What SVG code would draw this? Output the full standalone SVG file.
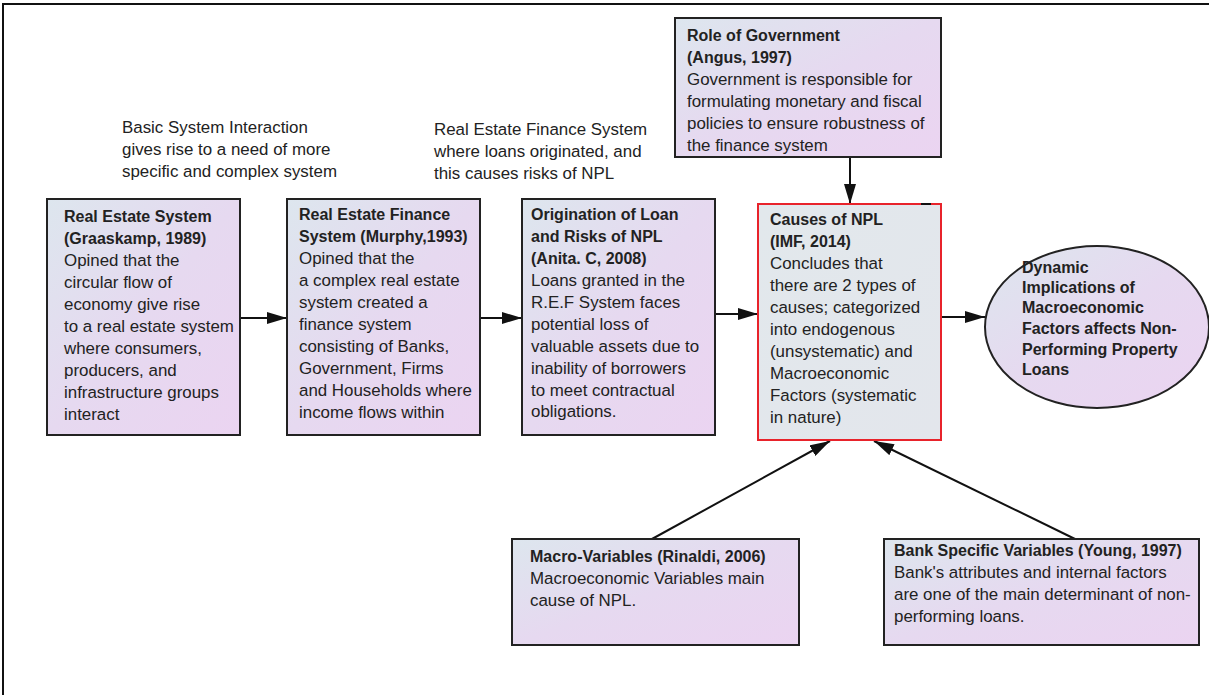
<svg xmlns="http://www.w3.org/2000/svg" width="1209" height="695" viewBox="0 0 1209 695">
<defs>
<linearGradient id="g" x1="0" y1="0" x2="1" y2="1">
<stop offset="0" stop-color="#dde6ee"/>
<stop offset="0.5" stop-color="#e6d9f0"/>
<stop offset="1" stop-color="#ebd4f1"/>
</linearGradient>
<linearGradient id="g2" x1="0" y1="0" x2="1" y2="1">
<stop offset="0" stop-color="#e2e8ec"/>
<stop offset="1" stop-color="#e3e6ec"/>
</linearGradient>
<marker id="arr2" viewBox="0 0 10 10" refX="10" refY="5" markerWidth="20" markerHeight="12" markerUnits="userSpaceOnUse" orient="auto" preserveAspectRatio="none">
<path d="M0,0 L10,5 L0,10 z" fill="#111"/>
</marker>
</defs>
<style>
text{font-family:"Liberation Sans",Arial,sans-serif;font-size:16.9px;fill:#222}
.b{font-weight:bold;font-size:16px}
.box{fill:url(#g);stroke:#222;stroke-width:2}
.conn{stroke:#111;stroke-width:2;fill:none}
</style>
<rect x="0" y="0" width="1209" height="695" fill="#fff"/>
<path d="M3,695 L3,4 L1209,4" fill="none" stroke="#111" stroke-width="2"/>

<g id="connectors">
<line class="conn" x1="240" y1="318" x2="287" y2="318" marker-end="url(#arr2)"/>
<line class="conn" x1="480" y1="318" x2="522" y2="318" marker-end="url(#arr2)"/>
<line class="conn" x1="715" y1="314" x2="758" y2="314" marker-end="url(#arr2)"/>
<line class="conn" x1="941" y1="317" x2="985" y2="317" marker-end="url(#arr2)"/>
<line class="conn" x1="850" y1="157" x2="850" y2="204" marker-end="url(#arr2)"/>
<line class="conn" x1="652" y1="539" x2="830" y2="441" marker-end="url(#arr2)"/>
<line class="conn" x1="1075" y1="539" x2="874" y2="441" marker-end="url(#arr2)"/>
</g>

<g id="note1">
<text x="122" y="133">Basic System Interaction</text>
<text x="122" y="155">gives rise to a need of more</text>
<text x="122" y="177">specific and complex system</text>
</g>
<g id="note2">
<text x="434" y="135">Real Estate Finance System</text>
<text x="434" y="157">where loans originated, and</text>
<text x="434" y="179">this causes risks of NPL</text>
</g>

<g id="real-estate-system">
<rect class="box" x="47" y="199" width="193" height="236"/>
<text class="b" x="64" y="222">Real Estate System</text>
<text class="b" x="64" y="244">(Graaskamp, 1989)</text>
<text x="64" y="266">Opined that the</text>
<text x="64" y="288">circular flow of</text>
<text x="64" y="310">economy give rise</text>
<text x="64" y="332">to a real estate system</text>
<text x="64" y="354">where consumers,</text>
<text x="64" y="376">producers, and</text>
<text x="64" y="398">infrastructure groups</text>
<text x="64" y="420">interact</text>
</g>

<g id="real-estate-finance">
<rect class="box" x="287" y="199" width="193" height="236"/>
<text class="b" x="299" y="220">Real Estate Finance</text>
<text class="b" x="299" y="242">System (Murphy,1993)</text>
<text x="299" y="264">Opined that the</text>
<text x="299" y="286">a complex real estate</text>
<text x="299" y="308">system created a</text>
<text x="299" y="330">finance system</text>
<text x="299" y="352">consisting of  Banks,</text>
<text x="299" y="374">Government, Firms</text>
<text x="299" y="396">and Households where</text>
<text x="299" y="418">income flows within</text>
</g>

<g id="origination">
<rect class="box" x="522" y="199" width="193" height="236"/>
<text class="b" x="531" y="220">Origination of Loan</text>
<text class="b" x="531" y="242">and Risks of NPL</text>
<text class="b" x="531" y="264">(Anita. C, 2008)</text>
<text x="531" y="286">Loans granted in the</text>
<text x="531" y="308">R.E.F System faces</text>
<text x="531" y="330">potential loss of</text>
<text x="531" y="352">valuable assets due to</text>
<text x="531" y="374">inability of borrowers</text>
<text x="531" y="396">to meet contractual</text>
<text x="531" y="417">obligations.</text>
</g>

<g id="role-of-government">
<rect class="box" x="675" y="18" width="266" height="139"/>
<text class="b" x="687" y="41">Role of Government</text>
<text class="b" x="687" y="63">(Angus, 1997)</text>
<text x="687" y="85">Government is responsible for</text>
<text x="687" y="107">formulating monetary and fiscal</text>
<text x="687" y="129">policies to ensure robustness of</text>
<text x="687" y="151">the finance system</text>
</g>

<g id="causes-of-npl">
<rect x="758" y="204" width="183" height="236" fill="url(#g2)" stroke="#e8232b" stroke-width="2"/>
<line x1="921" y1="204" x2="931" y2="204" stroke="#111" stroke-width="2"/>
<text class="b" x="770" y="225">Causes of NPL</text>
<text class="b" x="770" y="247">(IMF, 2014)</text>
<text x="770" y="269">Concludes that</text>
<text x="770" y="291">there are 2 types of</text>
<text x="770" y="313">causes;  categorized</text>
<text x="770" y="335">into endogenous</text>
<text x="770" y="357">(unsystematic) and</text>
<text x="770" y="379">Macroeconomic</text>
<text x="770" y="401">Factors (systematic</text>
<text x="770" y="423">in nature)</text>
</g>

<g id="dynamic-implications">
<ellipse cx="1097" cy="327" rx="112" ry="81" fill="url(#g)" stroke="#222" stroke-width="2"/>
<text class="b" x="1022" y="273">Dynamic</text>
<text class="b" x="1022" y="293">Implications of</text>
<text class="b" x="1022" y="313">Macroeconomic</text>
<text class="b" x="1022" y="334">Factors affects Non-</text>
<text class="b" x="1022" y="355">Performing Property</text>
<text class="b" x="1022" y="375">Loans</text>
</g>

<g id="macro-variables">
<rect class="box" x="512" y="539" width="287" height="106"/>
<text class="b" x="530" y="562">Macro-Variables (Rinaldi, 2006)</text>
<text x="530" y="584">Macroeconomic Variables main</text>
<text x="530" y="606">cause of NPL.</text>
</g>

<g id="bank-specific">
<rect class="box" x="884" y="539" width="315" height="106"/>
<text class="b" x="894" y="556">Bank Specific Variables (Young, 1997)</text>
<text x="894" y="578">Bank's attributes and internal factors</text>
<text x="894" y="600">are one of the main determinant of non-</text>
<text x="894" y="622">performing loans.</text>
</g>
</svg>
